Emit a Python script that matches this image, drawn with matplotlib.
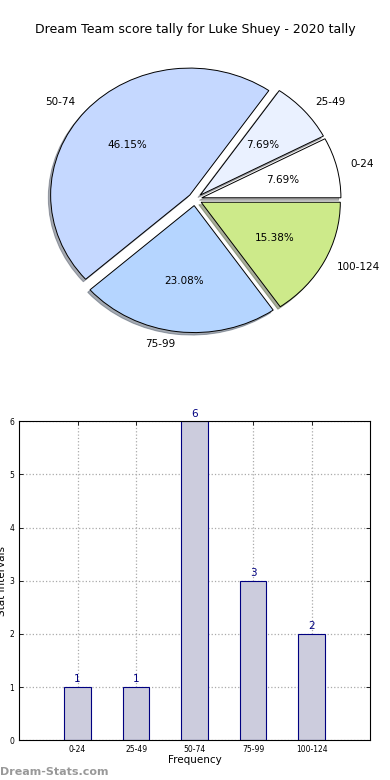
import matplotlib
matplotlib.use('Agg')
import matplotlib.pyplot as plt

# Data
intervals = ['0-24', '25-49', '50-74', '75-99', '100-124']
counts = [1, 1, 6, 3, 2]
pie_colors = ['#ffffff', '#eaf1ff', '#c5d8ff', '#b5d5ff', '#cdea8a']
explode = [0.05, 0.05, 0.05, 0.05, 0.05]

fig = plt.figure(figsize=(3.9, 7.8), dpi=100)

# Pie chart
ax1 = fig.add_axes([0.054, 0.541, 0.892, 0.407])
ax1.pie(counts, labels=intervals, colors=pie_colors, explode=explode,
        autopct='%.2f%%', shadow={'ox': -0.012, 'oy': -0.014, 'shade': 0.6},
        startangle=0,
        wedgeprops={'edgecolor': 'black', 'linewidth': 0.7},
        textprops={'fontsize': 7.5})
ax1.set_aspect('auto')
fig.text(0.5, 0.962, 'Dream Team score tally for Luke Shuey - 2020 tally',
         ha='center', va='center', fontsize=9)

# Bar chart
ax2 = fig.add_axes([0.049, 0.051, 0.9, 0.409])
x = list(range(len(intervals)))
bars = ax2.bar(x, counts, width=0.45, color='#ccccdd', edgecolor='navy',
               linewidth=0.8, zorder=2)
for xi, c in zip(x, counts):
    ax2.text(xi, c + 0.05, str(c), ha='center', va='bottom', color='navy', fontsize=7.5)
ax2.set_xlim(-1, 5)
ax2.set_ylim(0, 6)
ax2.set_xticks(x)
ax2.set_xticklabels(intervals, fontsize=5.5)
ax2.set_yticks(range(7))
ax2.tick_params(axis='y', labelsize=5.5)
ax2.tick_params(direction='in', top=True, right=True, length=3, width=0.6)
ax2.grid(True, linestyle=':', color='#aaaaaa', linewidth=0.9, zorder=0)
ax2.set_xlabel('Frequency', fontsize=7.5, labelpad=1)
ax2.set_ylabel('Stat Intervals', fontsize=7.5, labelpad=2)

fig.text(0.0, 0.004, 'Dream-Stats.com', color='#999999', fontsize=8,
         fontweight='bold', ha='left', va='bottom')

plt.savefig('out.png', dpi=100)
